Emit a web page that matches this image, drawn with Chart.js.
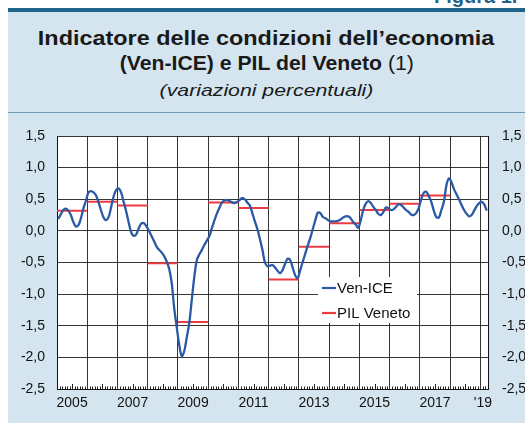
<!DOCTYPE html>
<html><head><meta charset="utf-8">
<script src="https://cdn.jsdelivr.net/npm/chart.js@4.4.1/dist/chart.umd.min.js"></script>
<style>
html,body{margin:0;padding:0;width:525px;height:423px;overflow:hidden;background:#fff;font-family:"Liberation Sans",Arial,sans-serif;}
#bg{position:absolute;left:8px;top:8px;width:517px;height:415px;background:#d5e5ef;}
#band{position:absolute;left:8px;top:8px;width:517px;height:4px;background:#1f6489;}
#fig{position:absolute;left:434px;top:-14px;font-weight:bold;font-size:20px;line-height:21px;color:#1f6489;white-space:nowrap;}
.t{position:absolute;left:8px;width:517px;text-align:center;color:#1a1a1a;white-space:nowrap;}
.t span.in{display:inline-block;}
#t1{top:28px;font-weight:bold;font-size:20px;line-height:20px;}
#t1 span.in{transform:scaleX(1.17);}
#t2{top:53px;font-weight:bold;font-size:20px;line-height:20px;}
#t2 span.in{transform:scaleX(1.06);}
#t2 .n{font-weight:normal;}
#t3{top:82px;font-style:italic;font-size:17px;line-height:17px;}
#t3 span.in{transform:scaleX(1.25);}
#sep{position:absolute;left:8px;top:112px;width:517px;height:1px;background:#6d9ab8;}
#wrap{position:absolute;left:0;top:113px;width:545px;height:310px;}
</style>
</head><body>
<div id="bg"></div>
<div id="band"></div>
<div id="fig">Figura 1.</div>
<div class="t" id="t1"><span class="in">Indicatore delle condizioni dell’economia</span></div>
<div class="t" id="t2"><span class="in">(Ven-ICE) e PIL del Veneto <span class="n">(1)</span></span></div>
<div class="t" id="t3"><span class="in">(variazioni percentuali)</span></div>
<div id="sep"></div>
<div id="wrap"><canvas id="c" width="545" height="310"></canvas></div>
<script>
// ---- data ----
const startYear = 2005;
const nMonths = 171; // Jan 2005 - Mar 2019
const venIce = [
  // 2005
  0.19,0.26,0.33,0.35,0.32,0.25,0.14,0.07,0.09,0.20,0.36,0.48,
  // 2006
  0.61,0.63,0.61,0.56,0.45,0.32,0.21,0.17,0.22,0.38,0.55,0.65,
  // 2007
  0.67,0.60,0.45,0.30,0.12,-0.03,-0.08,-0.05,0.05,0.12,0.12,0.07,
  // 2008
  0.00,-0.08,-0.16,-0.25,-0.30,-0.34,-0.40,-0.48,-0.60,-0.82,-1.22,-1.52,
  // 2009
  -1.80,-1.98,-1.90,-1.68,-1.45,-1.08,-0.72,-0.46,-0.37,-0.30,-0.22,-0.15,
  // 2010
  -0.08,0.05,0.17,0.28,0.37,0.45,0.48,0.49,0.47,0.45,0.44,0.46,
  // 2011
  0.49,0.52,0.50,0.45,0.40,0.28,0.15,0.03,-0.13,-0.30,-0.50,-0.56,
  // 2012
  -0.55,-0.54,-0.58,-0.63,-0.67,-0.62,-0.52,-0.44,-0.46,-0.58,-0.70,-0.75,
  // 2013
  -0.62,-0.49,-0.36,-0.23,-0.11,0.03,0.17,0.29,0.28,0.22,0.20,0.17,
  // 2014
  0.15,0.15,0.15,0.16,0.18,0.21,0.23,0.23,0.20,0.14,0.10,0.05,
  // 2015
  0.17,0.33,0.43,0.47,0.44,0.38,0.33,0.27,0.25,0.30,0.37,0.36,
  // 2016
  0.33,0.34,0.38,0.42,0.41,0.37,0.33,0.30,0.26,0.25,0.28,0.36,
  // 2017
  0.50,0.60,0.62,0.55,0.46,0.32,0.22,0.21,0.33,0.46,0.72,0.83,
  // 2018
  0.77,0.66,0.58,0.50,0.41,0.33,0.27,0.23,0.25,0.32,0.39,0.44,
  // 2019
  0.46,0.42,0.32
];
const pilYears  = [2005,2006,2007,2008,2009,2010,2011,2012,2013,2014,2015,2016,2017];
const pilValues = [0.32,0.46,0.40,-0.51,-1.44,0.45,0.36,-0.77,-0.25,0.12,0.33,0.43,0.56];
const xTickLabels = ['2005','2007','2009','2011','2013','2015','2017',"'19"];
const xTickMonths = [6,30,54,78,102,126,150,169];
const yMin = -2.5, yMax = 1.5, yStep = 0.5;
const seriesNames = ['Ven-ICE','PIL Veneto'];

// ---- styles ----
const BLUE = '#2a5aa6', RED = '#ee3b3f', GRID = 'rgba(20,20,20,0.85)', TXT = '#111';
const FONT = '"Liberation Sans", Arial, sans-serif';

const venData = venIce.map((v, i) => ({x: i + 0.5, y: v}));
const pilData = [];
pilYears.forEach((yr, i) => {
  const m0 = (yr - startYear) * 12;
  pilData.push({x: m0, y: pilValues[i]}, {x: m0 + 12, y: pilValues[i]}, {x: m0 + 12, y: null});
});
const yearMonths = [];
for (let m = 0; m <= nMonths; m += 12) yearMonths.push(m);

const fmt = v => (Math.round(v * 10) / 10).toFixed(1).replace('.', ',');

const bgPlugin = {
  id: 'plotBg',
  beforeDraw(chart) {
    const {ctx, chartArea: a} = chart;
    ctx.save(); ctx.fillStyle = '#fff';
    ctx.fillRect(a.left, a.top, a.right - a.left, a.bottom - a.top);
    ctx.restore();
  }
};
const minorTicks = {
  id: 'minorTicks',
  afterDraw(chart) {
    const {ctx, chartArea: a, scales: {x}} = chart;
    ctx.save(); ctx.strokeStyle = '#222'; ctx.lineWidth = 1;
    ctx.beginPath();
    for (let m = 1; m < nMonths; m++) {
      if (m % 12 === 0) continue;
      const px = Math.round(x.getPixelForValue(m)) + 0.5;
      const len = (m % 12 === 6) ? 5 : 2.5;
      ctx.moveTo(px, a.bottom); ctx.lineTo(px, a.bottom - len);
    }
    ctx.stroke(); ctx.restore();
  }
};
const boxLegend = {
  id: 'boxLegend',
  afterDraw(chart) {
    const {ctx} = chart;
    const bx = 318, by = 164, bw = 99, bh = 46;
    ctx.save();
    ctx.fillStyle = '#fff'; ctx.fillRect(bx, by, bw, bh);
    ctx.font = '15px ' + FONT; ctx.textBaseline = 'middle'; ctx.fillStyle = TXT;
    chart.data.datasets.forEach((ds, i) => {
      const yy = by + 11 + i * 25;
      ctx.strokeStyle = ds.borderColor; ctx.lineWidth = 2.2;
      ctx.beginPath(); ctx.moveTo(bx + 4, yy); ctx.lineTo(bx + 18, yy); ctx.stroke();
      ctx.fillText(ds.label, bx + 19, yy + 1);
    });
    ctx.restore();
  }
};

new Chart(document.getElementById('c'), {
  type: 'line',
  data: {
    datasets: [
      {label: seriesNames[0], data: venData, borderColor: BLUE, borderWidth: 2.3, pointRadius: 0, tension: 0.35, fill: false},
      {label: seriesNames[1], data: pilData, borderColor: RED, borderWidth: 2, pointRadius: 0, tension: 0, spanGaps: false, fill: false}
    ]
  },
  options: {
    responsive: false, animation: false, devicePixelRatio: 1,
    layout: {padding: {top: 23, left: 0, right: 0, bottom: 0}},
    plugins: {legend: {display: false}, tooltip: {enabled: false}, title: {display: false}},
    scales: {
      x: {
        type: 'linear', min: 0, max: nMonths, position: 'bottom',
        afterBuildTicks: s => { s.ticks = Array.from(new Set(yearMonths.concat(xTickMonths))).sort((a,b)=>a-b).map(v => ({value: v})); },
        afterFit: s => { s.height = 34; },
        grid: {drawTicks: false, lineWidth: 1, color: c => (c.tick && c.tick.value % 12 === 0) ? GRID : 'rgba(0,0,0,0)'},
        border: {display: true, color: '#111', width: 1},
        ticks: {autoSkip: false, maxRotation: 0, padding: 6, color: TXT, font: {family: FONT, size: 14},
          callback: v => { const i = xTickMonths.indexOf(v); return i >= 0 ? xTickLabels[i] : ''; }}
      },
      y: {
        type: 'linear', min: yMin, max: yMax, position: 'left',
        afterFit: s => { s.width = 57; },
        grid: {drawTicks: false, color: GRID, lineWidth: 1},
        border: {display: true, color: '#111', width: 1},
        ticks: {stepSize: yStep, padding: 12, color: TXT, font: {family: FONT, size: 14}, callback: fmt}
      },
      y2: {
        type: 'linear', min: yMin, max: yMax, position: 'right',
        afterFit: s => { s.width = 57; },
        grid: {drawTicks: false, drawOnChartArea: false},
        border: {display: true, color: '#111', width: 1},
        ticks: {stepSize: yStep, padding: 14, color: TXT, font: {family: FONT, size: 14}, callback: fmt}
      }
    }
  },
  plugins: [bgPlugin, minorTicks, boxLegend]
});
</script>
</body></html>
